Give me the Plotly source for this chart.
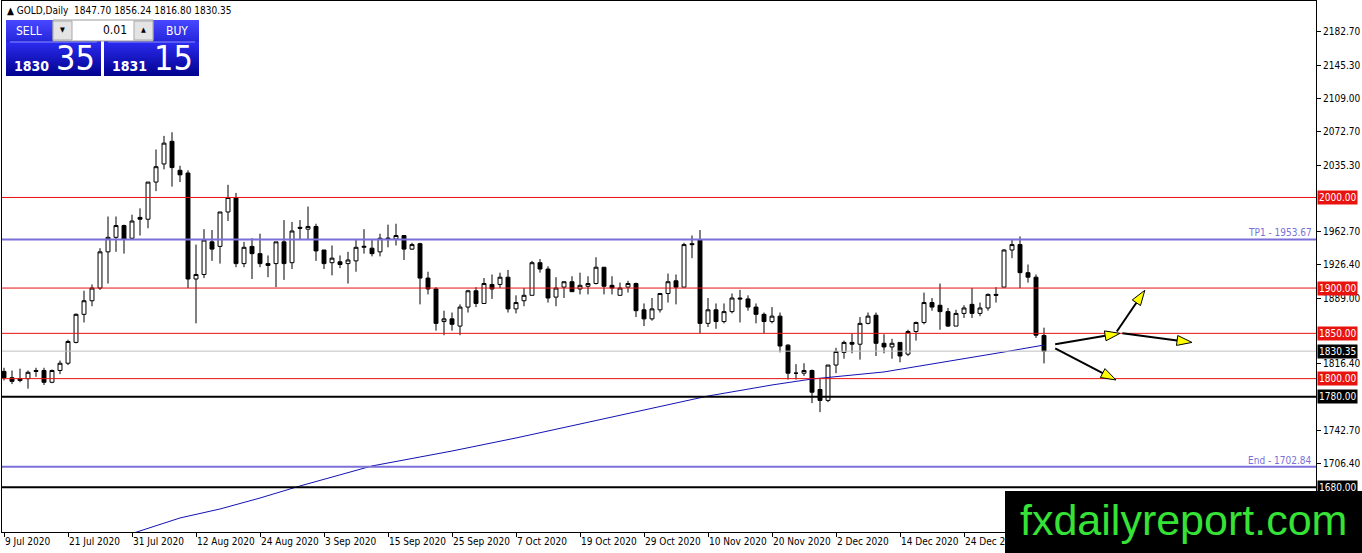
import pandas as pd
import plotly.graph_objects as go

# ---- data ------------------------------------------------------------
SYMBOL = "GOLD,Daily"
DATES = [d for d in pd.bdate_range("2020-07-09", "2021-01-11")
         if d.strftime("%m-%d") not in ("12-25", "01-01")]

OPEN = [1808, 1801, 1798, 1800, 1809, 1809, 1796, 1809, 1817, 1840,
        1871, 1886, 1900, 1940, 1956, 1969, 1955, 1978, 1976, 2017,
        2037, 2062, 2030, 2027, 1910, 1915, 1951, 1946, 1984, 2000,
        1927, 1946, 1938, 1927, 1927, 1951, 1928, 1967, 1965, 1968,
        1942, 1928, 1929, 1927, 1930, 1945, 1944, 1940, 1954, 1954,
        1958, 1943, 1949, 1911, 1899, 1863, 1866, 1858, 1879, 1897,
        1883, 1904, 1904, 1912, 1877, 1886, 1892, 1928, 1921, 1890,
        1901, 1907, 1899, 1902, 1905, 1923, 1903, 1892, 1901, 1905,
        1876, 1866, 1876, 1894, 1908, 1901, 1949, 1953, 1861, 1876,
        1863, 1874, 1889, 1888, 1879, 1871, 1863, 1869, 1837, 1806,
        1806, 1809, 1788, 1776, 1815, 1829, 1840, 1838, 1861, 1870,
        1839, 1835, 1840, 1827, 1852, 1862, 1884, 1881, 1874, 1858,
        1872, 1882, 1872, 1878, 1893, 1901, 1942, 1948, 1917, 1912,
        1847.70]
HIGH = [1812, 1809, 1811, 1809, 1812, 1812, 1810, 1820, 1843, 1872,
        1897, 1904, 1944, 1979, 1979, 1970, 1981, 1988, 2017, 2053,
        2068, 2072, 2035, 2030, 1948, 1965, 1964, 1984, 2014, 2005,
        1951, 1955, 1960, 1936, 1951, 1975, 1973, 1975, 1990, 1971,
        1942, 1947, 1936, 1940, 1953, 1965, 1953, 1960, 1970, 1971,
        1958, 1950, 1950, 1918, 1901, 1875, 1873, 1882, 1898, 1901,
        1911, 1915, 1917, 1920, 1892, 1900, 1930, 1932, 1924, 1912,
        1907, 1913, 1917, 1913, 1934, 1923, 1913, 1906, 1908, 1906,
        1883, 1889, 1894, 1916, 1915, 1950, 1958, 1964, 1889, 1883,
        1883, 1894, 1898, 1892, 1883, 1873, 1879, 1873, 1838, 1816,
        1817, 1810, 1800, 1815, 1834, 1842, 1850, 1868, 1873, 1873,
        1849, 1844, 1840, 1854, 1863, 1895, 1889, 1905, 1878, 1876,
        1881, 1900, 1884, 1894, 1901, 1943, 1953, 1957, 1926, 1915,
        1856.24]
LOW = [1798, 1794, 1796, 1789, 1802, 1793, 1795, 1805, 1815, 1839,
       1862, 1880, 1898, 1905, 1940, 1938, 1954, 1958, 1966, 2007,
       2031, 2012, 2017, 1900, 1861, 1911, 1930, 1927, 1974, 1923,
       1923, 1910, 1923, 1912, 1901, 1909, 1921, 1954, 1954, 1930,
       1921, 1914, 1922, 1905, 1918, 1938, 1935, 1935, 1945, 1947,
       1931, 1942, 1882, 1893, 1853, 1848, 1853, 1848, 1873, 1879,
       1883, 1888, 1900, 1873, 1872, 1880, 1892, 1917, 1884, 1880,
       1889, 1896, 1893, 1893, 1904, 1893, 1893, 1892, 1895, 1868,
       1858, 1864, 1873, 1884, 1882, 1901, 1933, 1850, 1857, 1855,
       1861, 1872, 1862, 1875, 1861, 1850, 1861, 1829, 1799, 1799,
       1803, 1773, 1763, 1774, 1806, 1822, 1828, 1821, 1860, 1825,
       1828, 1822, 1818, 1825, 1842, 1860, 1875, 1854, 1857, 1858,
       1867, 1867, 1869, 1875, 1884, 1901, 1933, 1900, 1906, 1845,
       1816.80]
CLOSE = [1801, 1797, 1800, 1807, 1808, 1796, 1809, 1817, 1841, 1871,
         1886, 1900, 1940, 1956, 1969, 1954, 1974, 1976, 2017, 2034,
         2060, 2033, 2025, 1910, 1915, 1953, 1943, 1984, 2000, 1927,
         1945, 1938, 1927, 1925, 1951, 1927, 1963, 1966, 1968, 1941,
         1927, 1933, 1926, 1931, 1945, 1946, 1938, 1955, 1955, 1958,
         1943, 1948, 1911, 1899, 1861, 1866, 1860, 1879, 1897, 1883,
         1905, 1899, 1912, 1877, 1884, 1892, 1928, 1921, 1889, 1900,
         1907, 1896, 1903, 1905, 1923, 1902, 1900, 1900, 1905, 1875,
         1866, 1877, 1894, 1907, 1901, 1948, 1948, 1861, 1876, 1863,
         1874, 1889, 1888, 1879, 1871, 1863, 1869, 1836, 1806, 1806,
         1809, 1785, 1776, 1815, 1830, 1840, 1838, 1861, 1869, 1839,
         1835, 1839, 1825, 1852, 1862, 1884, 1879, 1874, 1858, 1872,
         1878, 1872, 1878, 1893, 1892, 1942, 1948, 1917, 1912, 1848,
         1830.35]

# moving average, read at a handful of bars
MA_BAR = [16, 22, 27, 32, 37, 46, 56, 64, 72, 80, 88, 96, 101, 110, 117, 125, 130]
MA_VAL = [1629.0, 1646.2, 1656.1, 1668.2, 1681.5, 1703.6, 1720.1, 1734.5, 1749.9,
          1765.4, 1780.8, 1793.0, 1799.6, 1807.4, 1817.3, 1829.4, 1837.1]

TICK_DATES = ["2020-07-09", "2020-07-21", "2020-07-31", "2020-08-12", "2020-08-24",
              "2020-09-03", "2020-09-15", "2020-09-25", "2020-10-07", "2020-10-19",
              "2020-10-29", "2020-11-10", "2020-11-20", "2020-12-02", "2020-12-14",
              "2020-12-24"]
Y_TICKS = [2182.70, 2145.30, 2109.00, 2072.70, 2035.30, 1962.70, 1926.40,
           1889.00, 1816.40, 1742.70, 1706.40]

RED_LEVELS = [2000.00, 1900.00, 1850.00, 1800.00]
BLACK_LEVELS = [1780.00, 1680.00]
TARGET_NAMES = ["TP1", "End"]
TARGET_LEVELS = [1953.67, 1702.84]

# hand drawn arrows (bar, price) -> (bar, price)
ARROW_FROM = [(131.4, 1838.0), (131.4, 1833.5), (139.1, 1852.0), (139.8, 1850.0)]
ARROW_TO = [(139.5, 1850.0), (139.0, 1798.5), (142.6, 1897.5), (148.5, 1840.0)]

ASK_FIGS = ("1831", "15")
BID_FIGS = ("1830", "35")
LOT = "0.01"

# ---- geometry ----------------------------------------------------------
W, H = 1362, 553
M = dict(l=2, r=46, t=1, b=21)
PW, PH = W - M["l"] - M["r"], H - M["t"] - M["b"]
X_RANGE = [-0.25, 164.0]
Y_RANGE = [1630.7, 2216.9]
FONT = "DejaVu Sans Condensed, DejaVu Sans, sans-serif"
RED = "#e8120f"
TP_COL = "#7b70d8"

assert len(DATES) == len(OPEN) == len(HIGH) == len(LOW) == len(CLOSE)
X = list(range(len(DATES)))
pos = {d.strftime("%Y-%m-%d"): i for i, d in enumerate(DATES)}


def to_px(i, p):
    x = M["l"] + (i - X_RANGE[0]) / (X_RANGE[1] - X_RANGE[0]) * PW
    y = M["t"] + (Y_RANGE[1] - p) / (Y_RANGE[1] - Y_RANGE[0]) * PH
    return x, y


def px_x(x): return (x - M["l"]) / PW
def px_y(y): return (H - M["b"] - y) / PH


def blend(c0, c1, t):
    a = [int(c0[k:k + 2], 16) for k in (1, 3, 5)]
    b = [int(c1[k:k + 2], 16) for k in (1, 3, 5)]
    return "#%02x%02x%02x" % tuple(round(u + (v - u) * t) for u, v in zip(a, b))


fig = go.Figure()
shapes, notes = [], []

fig.add_trace(go.Candlestick(
    x=X, open=OPEN, high=HIGH, low=LOW, close=CLOSE,
    increasing=dict(line=dict(color="black", width=1), fillcolor="white"),
    decreasing=dict(line=dict(color="black", width=1), fillcolor="black"),
    whiskerwidth=0, hoverinfo="skip", showlegend=False,
))
fig.add_trace(go.Scatter(
    x=MA_BAR, y=MA_VAL, mode="lines", line=dict(color="#1212b4", width=1),
    hoverinfo="skip", showlegend=False,
))

# horizontal levels
def hline(y, color, width):
    shapes.append(dict(type="line", xref="paper", yref="y", x0=0, x1=1, y0=y, y1=y,
                       line=dict(color=color, width=width), layer="above"))

def tag(y, bg, text):
    notes.append(dict(xref="paper", yref="y", x=1, y=y, xanchor="left", yanchor="middle",
                      xshift=1, text=text, showarrow=False, bgcolor=bg, borderpad=1,
                      font=dict(family=FONT, size=10, color="white")))

for lv in RED_LEVELS:
    hline(lv, RED, 1)
    tag(lv, RED, f"{lv:.2f}")
for lv in BLACK_LEVELS:
    hline(lv, "black", 2)
    tag(lv, "black", f"{lv:.2f}")
for name, lv in zip(TARGET_NAMES, TARGET_LEVELS):
    hline(lv, TP_COL, 2)
    notes.append(dict(xref="paper", yref="y", x=1, y=lv, xanchor="right", yanchor="bottom",
                      xshift=-2, yshift=-1, text=f"{name} - {lv:.2f}", showarrow=False,
                      font=dict(family=FONT, size=10, color=TP_COL)))
hline(CLOSE[-1], "#c0c0c0", 1)
tag(CLOSE[-1], "black", f"{CLOSE[-1]:.2f}")

# arrows
for (i0, p0), (i1, p1) in zip(ARROW_FROM, ARROW_TO):
    sx, sy = to_px(i0, p0)
    tx, ty = to_px(i1, p1)
    dx, dy = tx - sx, ty - sy
    ln = (dx * dx + dy * dy) ** 0.5
    ux, uy = dx / ln, dy / ln
    bx, by = tx - ux * 15, ty - uy * 15
    shapes.append(dict(type="line", xref="paper", yref="paper",
                       x0=px_x(sx), y0=px_y(sy), x1=px_x(bx), y1=px_y(by),
                       line=dict(color="black", width=2)))
    pts = [(tx, ty), (bx - uy * 5, by + ux * 5), (bx + uy * 5, by - ux * 5)]
    path = "M " + " L ".join(f"{px_x(a):.5f},{px_y(b):.5f}" for a, b in pts) + " Z"
    shapes.append(dict(type="path", xref="paper", yref="paper", path=path,
                       fillcolor="#ffff00", line=dict(color="black", width=1)))

# one-click trading panel
def rect(x0, y0, x1, y1, fill, line=None):
    shapes.append(dict(type="rect", xref="paper", yref="paper",
                       x0=px_x(x0), x1=px_x(x1), y0=px_y(y0), y1=px_y(y1),
                       fillcolor=fill, line=dict(width=1 if line else 0, color=line or fill)))

def text(x, y, s, size, color="white", anchor="center", bold=False):
    notes.append(dict(xref="paper", yref="paper", x=px_x(x), y=px_y(y), xanchor=anchor,
                      yanchor="middle", text=f"<b>{s}</b>" if bold else s, showarrow=False,
                      font=dict(family=FONT, size=size, color=color)))

for x0, x1 in ((6, 101), (104, 199)):
    for k in range(20, 76, 2):
        if k < 42:
            col = blend("#4646ff", "#2323d8", (k - 20) / 22)
        else:
            col = blend("#2a2aee", "#00008a", (k - 42) / 34)
        rect(x0, k, x1, k + 2, col)
    shapes.append(dict(type="line", xref="paper", yref="paper", x0=px_x(x0 + 4),
                       x1=px_x(x1 - 4), y0=px_y(42), y1=px_y(42),
                       line=dict(color="#8c8cff", width=1)))
rect(53, 20, 153, 41, "white", "#9a9a9a")
rect(53, 21, 72, 40, "#e4e4e4", "#a8a8a8")
rect(134, 21, 153, 40, "#e4e4e4", "#a8a8a8")
text(62.5, 30, "▼", 7, "black")
text(143.5, 30, "▲", 7, "black")
text(129, 30, LOT, 12, "black", anchor="right")
text(29, 31, "SELL", 12)
text(177, 31, "BUY", 12)
text(51, 66, BID_FIGS[0], 14, anchor="right", bold=True)
text(54, 58, BID_FIGS[1], 34, anchor="left")
text(149, 66, ASK_FIGS[0], 14, anchor="right", bold=True)
text(152, 58, ASK_FIGS[1], 34, anchor="left")

notes.append(dict(xref="paper", yref="paper", x=px_x(5), y=px_y(11), xanchor="left",
                  yanchor="middle", showarrow=False,
                  text=f"▲ {SYMBOL}  {OPEN[-1]:.2f} {HIGH[-1]:.2f} {LOW[-1]:.2f} {CLOSE[-1]:.2f}",
                  font=dict(family=FONT, size=10, color="black")))

# watermark
rect(1005, 491, 1364, 555, "black")
notes.append(dict(xref="paper", yref="paper", x=px_x(1183), y=px_y(520), xanchor="center",
                  yanchor="middle", showarrow=False, text="fxdailyreport.com",
                  font=dict(family="Liberation Sans, Arial", size=43, color="#36e236")))

fig.update_xaxes(
    range=X_RANGE, rangeslider_visible=False, automargin=False,
    tickvals=[pos[d] for d in TICK_DATES],
    ticktext=[f"{pd.Timestamp(d).day} {pd.Timestamp(d).strftime('%b %Y')}" for d in TICK_DATES],
    ticks="outside", ticklen=4, tickcolor="black", ticklabelposition="outside right",
    tickangle=0, tickfont=dict(family=FONT, size=10, color="black"),
    showgrid=False, zeroline=False, showline=True, linecolor="black", linewidth=1, mirror=True,
)
fig.update_yaxes(
    range=Y_RANGE, side="right", automargin=False,
    tickvals=Y_TICKS, ticktext=[f"{v:.2f}" for v in Y_TICKS],
    ticks="outside", ticklen=4, tickcolor="black",
    tickfont=dict(family=FONT, size=10, color="black"),
    showgrid=False, zeroline=False, showline=True, linecolor="black", linewidth=1, mirror=True,
)
fig.update_layout(
    width=W, height=H, margin=M, autosize=False,
    paper_bgcolor="white", plot_bgcolor="white",
    shapes=shapes, annotations=notes, hovermode=False, showlegend=False,
)
fig.write_html("out.html", config={"displayModeBar": False},
               post_script="document.body.style.margin='0';")
